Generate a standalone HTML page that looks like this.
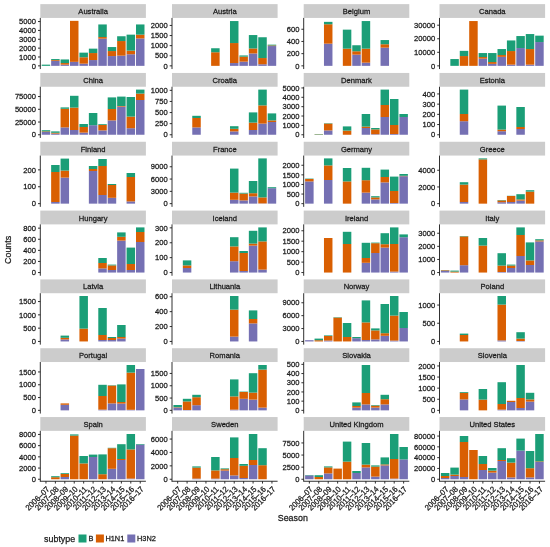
<!DOCTYPE html>
<html><head><meta charset="utf-8"><title>Influenza subtypes by season</title>
<style>
html,body{margin:0;padding:0;background:#fff;}
body{width:550px;height:547px;overflow:hidden;}
svg{display:block;}
text{font-family:"Liberation Sans",sans-serif;fill:#1a1a1a;stroke:#1a1a1a;stroke-width:0.25px;}
.tx{filter:grayscale(1);}
.st{font-size:7.6px;text-anchor:middle;}
.tk{font-size:7.6px;text-anchor:end;}
.xl{font-size:7.7px;text-anchor:end;}
.ti{font-size:8.9px;}
.lg{font-size:7.4px;}
.ax{stroke:#1a1a1a;stroke-width:0.9;fill:none;}
</style></head>
<body>
<svg width="550" height="547" viewBox="0 0 550 547">
<rect width="550" height="547" fill="#fff"/>
<rect x="40.3" y="4.13" width="105.6" height="13.8" fill="#CCCCCC"/>
<rect x="41.71" y="64.65" width="8.49" height="1.2" fill="#1B9E77"/>
<rect x="51.14" y="60.85" width="8.49" height="5" fill="#7570B3"/>
<rect x="51.14" y="60.05" width="8.49" height="0.8" fill="#D95F02"/>
<rect x="51.14" y="59.05" width="8.49" height="1" fill="#1B9E77"/>
<rect x="60.57" y="64.65" width="8.49" height="1.2" fill="#7570B3"/>
<rect x="60.57" y="63.05" width="8.49" height="1.6" fill="#D95F02"/>
<rect x="60.57" y="59.45" width="8.49" height="3.6" fill="#1B9E77"/>
<rect x="70" y="61.85" width="8.49" height="4" fill="#7570B3"/>
<rect x="70" y="20.85" width="8.49" height="41" fill="#D95F02"/>
<rect x="79.43" y="63.65" width="8.49" height="2.2" fill="#7570B3"/>
<rect x="79.43" y="57.25" width="8.49" height="6.4" fill="#D95F02"/>
<rect x="79.43" y="52.65" width="8.49" height="4.6" fill="#1B9E77"/>
<rect x="88.86" y="60.05" width="8.49" height="5.8" fill="#7570B3"/>
<rect x="88.86" y="53.05" width="8.49" height="7" fill="#D95F02"/>
<rect x="88.86" y="48.65" width="8.49" height="4.4" fill="#1B9E77"/>
<rect x="98.29" y="38.65" width="8.49" height="27.2" fill="#7570B3"/>
<rect x="98.29" y="37.05" width="8.49" height="1.6" fill="#D95F02"/>
<rect x="98.29" y="24.45" width="8.49" height="12.6" fill="#1B9E77"/>
<rect x="107.71" y="56.05" width="8.49" height="9.8" fill="#7570B3"/>
<rect x="107.71" y="51.05" width="8.49" height="5" fill="#D95F02"/>
<rect x="107.71" y="47.05" width="8.49" height="4" fill="#1B9E77"/>
<rect x="117.14" y="55.65" width="8.49" height="10.2" fill="#7570B3"/>
<rect x="117.14" y="41.05" width="8.49" height="14.6" fill="#D95F02"/>
<rect x="117.14" y="36.25" width="8.49" height="4.8" fill="#1B9E77"/>
<rect x="126.57" y="54.25" width="8.49" height="11.6" fill="#7570B3"/>
<rect x="126.57" y="50.65" width="8.49" height="3.6" fill="#D95F02"/>
<rect x="126.57" y="34.65" width="8.49" height="16" fill="#1B9E77"/>
<rect x="136" y="38.45" width="8.49" height="27.4" fill="#7570B3"/>
<rect x="136" y="34.65" width="8.49" height="3.8" fill="#D95F02"/>
<rect x="136" y="24.45" width="8.49" height="10.2" fill="#1B9E77"/>
<line x1="40.3" y1="17.93" x2="40.3" y2="69.05" class="ax"/>
<line x1="38" y1="65.85" x2="40.3" y2="65.85" class="ax"/>
<line x1="38" y1="56.99" x2="40.3" y2="56.99" class="ax"/>
<line x1="38" y1="48.13" x2="40.3" y2="48.13" class="ax"/>
<line x1="38" y1="39.27" x2="40.3" y2="39.27" class="ax"/>
<line x1="38" y1="30.41" x2="40.3" y2="30.41" class="ax"/>
<line x1="38" y1="21.55" x2="40.3" y2="21.55" class="ax"/>
<rect x="172" y="4.13" width="105.6" height="13.8" fill="#CCCCCC"/>
<rect x="211.13" y="52.25" width="8.49" height="13.6" fill="#D95F02"/>
<rect x="211.13" y="48.25" width="8.49" height="4" fill="#1B9E77"/>
<rect x="229.99" y="63.05" width="8.49" height="2.8" fill="#7570B3"/>
<rect x="229.99" y="43.05" width="8.49" height="20" fill="#D95F02"/>
<rect x="229.99" y="21.05" width="8.49" height="22" fill="#1B9E77"/>
<rect x="239.41" y="61.65" width="8.49" height="4.2" fill="#7570B3"/>
<rect x="239.41" y="56.65" width="8.49" height="5" fill="#D95F02"/>
<rect x="239.41" y="55.45" width="8.49" height="1.2" fill="#1B9E77"/>
<rect x="248.84" y="53.45" width="8.49" height="12.4" fill="#7570B3"/>
<rect x="248.84" y="48.45" width="8.49" height="5" fill="#D95F02"/>
<rect x="248.84" y="35.05" width="8.49" height="13.4" fill="#1B9E77"/>
<rect x="258.27" y="64.25" width="8.49" height="1.6" fill="#7570B3"/>
<rect x="258.27" y="58.05" width="8.49" height="6.2" fill="#D95F02"/>
<rect x="258.27" y="37.25" width="8.49" height="20.8" fill="#1B9E77"/>
<rect x="267.7" y="46.05" width="8.49" height="19.8" fill="#7570B3"/>
<rect x="267.7" y="45.45" width="8.49" height="0.6" fill="#D95F02"/>
<rect x="267.7" y="44.65" width="8.49" height="0.8" fill="#1B9E77"/>
<line x1="172" y1="17.93" x2="172" y2="69.05" class="ax"/>
<line x1="169.7" y1="65.85" x2="172" y2="65.85" class="ax"/>
<line x1="169.7" y1="55.75" x2="172" y2="55.75" class="ax"/>
<line x1="169.7" y1="45.65" x2="172" y2="45.65" class="ax"/>
<line x1="169.7" y1="35.55" x2="172" y2="35.55" class="ax"/>
<line x1="169.7" y1="25.45" x2="172" y2="25.45" class="ax"/>
<rect x="303.7" y="4.13" width="105.6" height="13.8" fill="#CCCCCC"/>
<rect x="323.97" y="43.65" width="8.49" height="22.2" fill="#7570B3"/>
<rect x="323.97" y="24.25" width="8.49" height="19.4" fill="#D95F02"/>
<rect x="323.97" y="21.85" width="8.49" height="2.4" fill="#1B9E77"/>
<rect x="342.83" y="48.65" width="8.49" height="17.2" fill="#D95F02"/>
<rect x="342.83" y="29.65" width="8.49" height="19" fill="#1B9E77"/>
<rect x="352.26" y="54.65" width="8.49" height="11.2" fill="#7570B3"/>
<rect x="352.26" y="51.25" width="8.49" height="3.4" fill="#D95F02"/>
<rect x="352.26" y="45.25" width="8.49" height="6" fill="#1B9E77"/>
<rect x="361.69" y="62.65" width="8.49" height="3.2" fill="#7570B3"/>
<rect x="361.69" y="48.65" width="8.49" height="14" fill="#D95F02"/>
<rect x="361.69" y="21.05" width="8.49" height="27.6" fill="#1B9E77"/>
<rect x="380.54" y="47.65" width="8.49" height="18.2" fill="#7570B3"/>
<rect x="380.54" y="44.25" width="8.49" height="3.4" fill="#D95F02"/>
<rect x="380.54" y="40.05" width="8.49" height="4.2" fill="#1B9E77"/>
<line x1="303.7" y1="17.93" x2="303.7" y2="69.05" class="ax"/>
<line x1="301.4" y1="65.85" x2="303.7" y2="65.85" class="ax"/>
<line x1="301.4" y1="53.65" x2="303.7" y2="53.65" class="ax"/>
<line x1="301.4" y1="41.45" x2="303.7" y2="41.45" class="ax"/>
<line x1="301.4" y1="29.25" x2="303.7" y2="29.25" class="ax"/>
<rect x="439.5" y="4.13" width="105.6" height="13.8" fill="#CCCCCC"/>
<rect x="450.34" y="59.05" width="8.49" height="6.8" fill="#1B9E77"/>
<rect x="459.77" y="56.05" width="8.49" height="9.8" fill="#D95F02"/>
<rect x="459.77" y="50.85" width="8.49" height="5.2" fill="#1B9E77"/>
<rect x="469.2" y="21.05" width="8.49" height="44.8" fill="#D95F02"/>
<rect x="478.63" y="58.65" width="8.49" height="7.2" fill="#7570B3"/>
<rect x="478.63" y="57.05" width="8.49" height="1.6" fill="#D95F02"/>
<rect x="478.63" y="53.05" width="8.49" height="4" fill="#1B9E77"/>
<rect x="488.06" y="63.85" width="8.49" height="2" fill="#7570B3"/>
<rect x="488.06" y="62.05" width="8.49" height="1.8" fill="#D95F02"/>
<rect x="488.06" y="53.05" width="8.49" height="9" fill="#1B9E77"/>
<rect x="497.49" y="56.85" width="8.49" height="9" fill="#7570B3"/>
<rect x="497.49" y="55.05" width="8.49" height="1.8" fill="#D95F02"/>
<rect x="497.49" y="49.05" width="8.49" height="6" fill="#1B9E77"/>
<rect x="506.91" y="64.65" width="8.49" height="1.2" fill="#7570B3"/>
<rect x="506.91" y="51.05" width="8.49" height="13.6" fill="#D95F02"/>
<rect x="506.91" y="40.45" width="8.49" height="10.6" fill="#1B9E77"/>
<rect x="516.34" y="48.05" width="8.49" height="17.8" fill="#7570B3"/>
<rect x="516.34" y="36.05" width="8.49" height="12" fill="#1B9E77"/>
<rect x="525.77" y="64.65" width="8.49" height="1.2" fill="#7570B3"/>
<rect x="525.77" y="49.05" width="8.49" height="15.6" fill="#D95F02"/>
<rect x="525.77" y="34.05" width="8.49" height="15" fill="#1B9E77"/>
<rect x="535.2" y="42.05" width="8.49" height="23.8" fill="#7570B3"/>
<rect x="535.2" y="35.65" width="8.49" height="6.4" fill="#1B9E77"/>
<line x1="439.5" y1="17.93" x2="439.5" y2="69.05" class="ax"/>
<line x1="437.2" y1="65.85" x2="439.5" y2="65.85" class="ax"/>
<line x1="437.2" y1="52.3" x2="439.5" y2="52.3" class="ax"/>
<line x1="437.2" y1="38.75" x2="439.5" y2="38.75" class="ax"/>
<line x1="437.2" y1="25.2" x2="439.5" y2="25.2" class="ax"/>
<rect x="40.3" y="72.95" width="105.6" height="13.8" fill="#CCCCCC"/>
<rect x="41.71" y="132" width="8.49" height="2.75" fill="#7570B3"/>
<rect x="41.71" y="131.4" width="8.49" height="0.6" fill="#D95F02"/>
<rect x="41.71" y="130.2" width="8.49" height="1.2" fill="#1B9E77"/>
<rect x="51.14" y="133.6" width="8.49" height="1.15" fill="#7570B3"/>
<rect x="51.14" y="132.8" width="8.49" height="0.8" fill="#D95F02"/>
<rect x="51.14" y="131.4" width="8.49" height="1.4" fill="#1B9E77"/>
<rect x="60.57" y="127.4" width="8.49" height="7.35" fill="#7570B3"/>
<rect x="60.57" y="108.8" width="8.49" height="18.6" fill="#D95F02"/>
<rect x="60.57" y="107.4" width="8.49" height="1.4" fill="#1B9E77"/>
<rect x="70" y="130" width="8.49" height="4.75" fill="#7570B3"/>
<rect x="70" y="107.6" width="8.49" height="22.4" fill="#D95F02"/>
<rect x="70" y="95.8" width="8.49" height="11.8" fill="#1B9E77"/>
<rect x="79.43" y="132.6" width="8.49" height="2.15" fill="#7570B3"/>
<rect x="79.43" y="127" width="8.49" height="5.6" fill="#D95F02"/>
<rect x="79.43" y="124" width="8.49" height="3" fill="#1B9E77"/>
<rect x="88.86" y="125.2" width="8.49" height="9.55" fill="#7570B3"/>
<rect x="88.86" y="113" width="8.49" height="12.2" fill="#1B9E77"/>
<rect x="98.29" y="130.4" width="8.49" height="4.35" fill="#7570B3"/>
<rect x="98.29" y="125" width="8.49" height="5.4" fill="#D95F02"/>
<rect x="98.29" y="124.2" width="8.49" height="0.8" fill="#1B9E77"/>
<rect x="107.71" y="120.4" width="8.49" height="14.35" fill="#7570B3"/>
<rect x="107.71" y="109" width="8.49" height="11.4" fill="#D95F02"/>
<rect x="107.71" y="97.4" width="8.49" height="11.6" fill="#1B9E77"/>
<rect x="117.14" y="106.6" width="8.49" height="28.15" fill="#7570B3"/>
<rect x="117.14" y="106" width="8.49" height="0.6" fill="#D95F02"/>
<rect x="117.14" y="96.6" width="8.49" height="9.4" fill="#1B9E77"/>
<rect x="126.57" y="128.2" width="8.49" height="6.55" fill="#7570B3"/>
<rect x="126.57" y="116.6" width="8.49" height="11.6" fill="#D95F02"/>
<rect x="126.57" y="97" width="8.49" height="19.6" fill="#1B9E77"/>
<rect x="136" y="100" width="8.49" height="34.75" fill="#7570B3"/>
<rect x="136" y="93.6" width="8.49" height="6.4" fill="#D95F02"/>
<rect x="136" y="89.6" width="8.49" height="4" fill="#1B9E77"/>
<line x1="40.3" y1="86.75" x2="40.3" y2="137.95" class="ax"/>
<line x1="38" y1="134.75" x2="40.3" y2="134.75" class="ax"/>
<line x1="38" y1="122.02" x2="40.3" y2="122.02" class="ax"/>
<line x1="38" y1="109.29" x2="40.3" y2="109.29" class="ax"/>
<line x1="38" y1="96.56" x2="40.3" y2="96.56" class="ax"/>
<rect x="172" y="72.95" width="105.6" height="13.8" fill="#CCCCCC"/>
<rect x="192.27" y="127.4" width="8.49" height="7.35" fill="#7570B3"/>
<rect x="192.27" y="118" width="8.49" height="9.4" fill="#D95F02"/>
<rect x="192.27" y="115.8" width="8.49" height="2.2" fill="#1B9E77"/>
<rect x="229.99" y="131.4" width="8.49" height="3.35" fill="#7570B3"/>
<rect x="229.99" y="128.8" width="8.49" height="2.6" fill="#D95F02"/>
<rect x="229.99" y="126.2" width="8.49" height="2.6" fill="#1B9E77"/>
<rect x="248.84" y="130" width="8.49" height="4.75" fill="#7570B3"/>
<rect x="248.84" y="122.6" width="8.49" height="7.4" fill="#D95F02"/>
<rect x="248.84" y="112.4" width="8.49" height="10.2" fill="#1B9E77"/>
<rect x="258.27" y="123.6" width="8.49" height="11.15" fill="#7570B3"/>
<rect x="258.27" y="105.4" width="8.49" height="18.2" fill="#D95F02"/>
<rect x="258.27" y="89.6" width="8.49" height="15.8" fill="#1B9E77"/>
<rect x="267.7" y="122" width="8.49" height="12.75" fill="#7570B3"/>
<rect x="267.7" y="120.4" width="8.49" height="1.6" fill="#D95F02"/>
<rect x="267.7" y="113.4" width="8.49" height="7" fill="#1B9E77"/>
<line x1="172" y1="86.75" x2="172" y2="137.95" class="ax"/>
<line x1="169.7" y1="134.75" x2="172" y2="134.75" class="ax"/>
<line x1="169.7" y1="123.65" x2="172" y2="123.65" class="ax"/>
<line x1="169.7" y1="112.55" x2="172" y2="112.55" class="ax"/>
<line x1="169.7" y1="101.45" x2="172" y2="101.45" class="ax"/>
<line x1="169.7" y1="90.35" x2="172" y2="90.35" class="ax"/>
<rect x="303.7" y="72.95" width="105.6" height="13.8" fill="#CCCCCC"/>
<rect x="314.54" y="134.4" width="8.49" height="0.35" fill="#D95F02"/>
<rect x="314.54" y="134" width="8.49" height="0.4" fill="#1B9E77"/>
<rect x="323.97" y="130.4" width="8.49" height="4.35" fill="#7570B3"/>
<rect x="323.97" y="123.6" width="8.49" height="6.8" fill="#D95F02"/>
<rect x="323.97" y="123.2" width="8.49" height="0.4" fill="#1B9E77"/>
<rect x="342.83" y="130.6" width="8.49" height="4.15" fill="#D95F02"/>
<rect x="342.83" y="126.4" width="8.49" height="4.2" fill="#1B9E77"/>
<rect x="361.69" y="128" width="8.49" height="6.75" fill="#7570B3"/>
<rect x="361.69" y="126.6" width="8.49" height="1.4" fill="#D95F02"/>
<rect x="361.69" y="114" width="8.49" height="12.6" fill="#1B9E77"/>
<rect x="371.11" y="134.2" width="8.49" height="0.55" fill="#7570B3"/>
<rect x="371.11" y="129.4" width="8.49" height="4.8" fill="#D95F02"/>
<rect x="371.11" y="128" width="8.49" height="1.4" fill="#1B9E77"/>
<rect x="380.54" y="117" width="8.49" height="17.75" fill="#7570B3"/>
<rect x="380.54" y="105" width="8.49" height="12" fill="#D95F02"/>
<rect x="380.54" y="89.6" width="8.49" height="15.4" fill="#1B9E77"/>
<rect x="389.97" y="134" width="8.49" height="0.75" fill="#7570B3"/>
<rect x="389.97" y="125" width="8.49" height="9" fill="#D95F02"/>
<rect x="389.97" y="99" width="8.49" height="26" fill="#1B9E77"/>
<rect x="399.4" y="117" width="8.49" height="17.75" fill="#7570B3"/>
<rect x="399.4" y="114" width="8.49" height="3" fill="#1B9E77"/>
<line x1="303.7" y1="86.75" x2="303.7" y2="137.95" class="ax"/>
<line x1="301.4" y1="134.75" x2="303.7" y2="134.75" class="ax"/>
<line x1="301.4" y1="125.39" x2="303.7" y2="125.39" class="ax"/>
<line x1="301.4" y1="116.03" x2="303.7" y2="116.03" class="ax"/>
<line x1="301.4" y1="106.67" x2="303.7" y2="106.67" class="ax"/>
<line x1="301.4" y1="97.31" x2="303.7" y2="97.31" class="ax"/>
<line x1="301.4" y1="87.95" x2="303.7" y2="87.95" class="ax"/>
<rect x="439.5" y="72.95" width="105.6" height="13.8" fill="#CCCCCC"/>
<rect x="459.77" y="121.2" width="8.49" height="13.55" fill="#7570B3"/>
<rect x="459.77" y="114" width="8.49" height="7.2" fill="#D95F02"/>
<rect x="459.77" y="89.6" width="8.49" height="24.4" fill="#1B9E77"/>
<rect x="497.49" y="131.2" width="8.49" height="3.55" fill="#7570B3"/>
<rect x="497.49" y="129.6" width="8.49" height="1.6" fill="#D95F02"/>
<rect x="497.49" y="105.6" width="8.49" height="24" fill="#1B9E77"/>
<rect x="516.34" y="129" width="8.49" height="5.75" fill="#7570B3"/>
<rect x="516.34" y="127" width="8.49" height="2" fill="#D95F02"/>
<rect x="516.34" y="107" width="8.49" height="20" fill="#1B9E77"/>
<line x1="439.5" y1="86.75" x2="439.5" y2="137.95" class="ax"/>
<line x1="437.2" y1="134.75" x2="439.5" y2="134.75" class="ax"/>
<line x1="437.2" y1="124.55" x2="439.5" y2="124.55" class="ax"/>
<line x1="437.2" y1="114.35" x2="439.5" y2="114.35" class="ax"/>
<line x1="437.2" y1="104.15" x2="439.5" y2="104.15" class="ax"/>
<line x1="437.2" y1="93.95" x2="439.5" y2="93.95" class="ax"/>
<rect x="40.3" y="141.77" width="105.6" height="13.8" fill="#CCCCCC"/>
<rect x="51.14" y="202" width="8.49" height="1.65" fill="#7570B3"/>
<rect x="51.14" y="172" width="8.49" height="30" fill="#D95F02"/>
<rect x="51.14" y="165" width="8.49" height="7" fill="#1B9E77"/>
<rect x="60.57" y="177.6" width="8.49" height="26.05" fill="#7570B3"/>
<rect x="60.57" y="170.6" width="8.49" height="7" fill="#D95F02"/>
<rect x="60.57" y="158.6" width="8.49" height="12" fill="#1B9E77"/>
<rect x="88.86" y="171" width="8.49" height="32.65" fill="#7570B3"/>
<rect x="88.86" y="169" width="8.49" height="2" fill="#D95F02"/>
<rect x="88.86" y="166" width="8.49" height="3" fill="#1B9E77"/>
<rect x="98.29" y="195" width="8.49" height="8.65" fill="#7570B3"/>
<rect x="98.29" y="166" width="8.49" height="29" fill="#D95F02"/>
<rect x="98.29" y="159" width="8.49" height="7" fill="#1B9E77"/>
<rect x="107.71" y="197.8" width="8.49" height="5.85" fill="#7570B3"/>
<rect x="107.71" y="185" width="8.49" height="12.8" fill="#D95F02"/>
<rect x="107.71" y="184" width="8.49" height="1" fill="#1B9E77"/>
<rect x="126.57" y="201.4" width="8.49" height="2.25" fill="#7570B3"/>
<rect x="126.57" y="177" width="8.49" height="24.4" fill="#D95F02"/>
<rect x="126.57" y="173" width="8.49" height="4" fill="#1B9E77"/>
<line x1="40.3" y1="155.57" x2="40.3" y2="206.85" class="ax"/>
<line x1="38" y1="203.65" x2="40.3" y2="203.65" class="ax"/>
<line x1="38" y1="186.75" x2="40.3" y2="186.75" class="ax"/>
<line x1="38" y1="169.85" x2="40.3" y2="169.85" class="ax"/>
<rect x="172" y="141.77" width="105.6" height="13.8" fill="#CCCCCC"/>
<rect x="229.99" y="199.8" width="8.49" height="3.85" fill="#7570B3"/>
<rect x="229.99" y="192.6" width="8.49" height="7.2" fill="#D95F02"/>
<rect x="229.99" y="168.6" width="8.49" height="24" fill="#1B9E77"/>
<rect x="239.41" y="200.4" width="8.49" height="3.25" fill="#7570B3"/>
<rect x="239.41" y="193.6" width="8.49" height="6.8" fill="#D95F02"/>
<rect x="239.41" y="192.8" width="8.49" height="0.8" fill="#1B9E77"/>
<rect x="248.84" y="196.4" width="8.49" height="7.25" fill="#7570B3"/>
<rect x="248.84" y="193.2" width="8.49" height="3.2" fill="#D95F02"/>
<rect x="248.84" y="181" width="8.49" height="12.2" fill="#1B9E77"/>
<rect x="258.27" y="203.4" width="8.49" height="0.25" fill="#7570B3"/>
<rect x="258.27" y="197.4" width="8.49" height="6" fill="#D95F02"/>
<rect x="258.27" y="158.4" width="8.49" height="39" fill="#1B9E77"/>
<rect x="267.7" y="188.2" width="8.49" height="15.45" fill="#7570B3"/>
<rect x="267.7" y="187.2" width="8.49" height="1" fill="#1B9E77"/>
<line x1="172" y1="155.57" x2="172" y2="206.85" class="ax"/>
<line x1="169.7" y1="203.65" x2="172" y2="203.65" class="ax"/>
<line x1="169.7" y1="191.35" x2="172" y2="191.35" class="ax"/>
<line x1="169.7" y1="179.05" x2="172" y2="179.05" class="ax"/>
<line x1="169.7" y1="166.75" x2="172" y2="166.75" class="ax"/>
<rect x="303.7" y="141.77" width="105.6" height="13.8" fill="#CCCCCC"/>
<rect x="305.11" y="181.4" width="8.49" height="22.25" fill="#7570B3"/>
<rect x="305.11" y="179" width="8.49" height="2.4" fill="#D95F02"/>
<rect x="305.11" y="178.6" width="8.49" height="0.4" fill="#1B9E77"/>
<rect x="323.97" y="180" width="8.49" height="23.65" fill="#7570B3"/>
<rect x="323.97" y="165.4" width="8.49" height="14.6" fill="#D95F02"/>
<rect x="323.97" y="158.4" width="8.49" height="7" fill="#1B9E77"/>
<rect x="342.83" y="181.4" width="8.49" height="22.25" fill="#D95F02"/>
<rect x="342.83" y="168" width="8.49" height="13.4" fill="#1B9E77"/>
<rect x="361.69" y="192.6" width="8.49" height="11.05" fill="#7570B3"/>
<rect x="361.69" y="180.2" width="8.49" height="12.4" fill="#D95F02"/>
<rect x="361.69" y="167.8" width="8.49" height="12.4" fill="#1B9E77"/>
<rect x="371.11" y="199.4" width="8.49" height="4.25" fill="#7570B3"/>
<rect x="371.11" y="197.4" width="8.49" height="2" fill="#D95F02"/>
<rect x="371.11" y="196.2" width="8.49" height="1.2" fill="#1B9E77"/>
<rect x="380.54" y="182.4" width="8.49" height="21.25" fill="#7570B3"/>
<rect x="380.54" y="177" width="8.49" height="5.4" fill="#D95F02"/>
<rect x="380.54" y="169.6" width="8.49" height="7.4" fill="#1B9E77"/>
<rect x="389.97" y="203" width="8.49" height="0.65" fill="#7570B3"/>
<rect x="389.97" y="191" width="8.49" height="12" fill="#D95F02"/>
<rect x="389.97" y="176.6" width="8.49" height="14.4" fill="#1B9E77"/>
<rect x="399.4" y="176.2" width="8.49" height="27.45" fill="#7570B3"/>
<rect x="399.4" y="175.8" width="8.49" height="0.4" fill="#D95F02"/>
<rect x="399.4" y="174" width="8.49" height="1.8" fill="#1B9E77"/>
<line x1="303.7" y1="155.57" x2="303.7" y2="206.85" class="ax"/>
<line x1="301.4" y1="203.65" x2="303.7" y2="203.65" class="ax"/>
<line x1="301.4" y1="194.05" x2="303.7" y2="194.05" class="ax"/>
<line x1="301.4" y1="184.45" x2="303.7" y2="184.45" class="ax"/>
<line x1="301.4" y1="174.85" x2="303.7" y2="174.85" class="ax"/>
<line x1="301.4" y1="165.25" x2="303.7" y2="165.25" class="ax"/>
<rect x="439.5" y="141.77" width="105.6" height="13.8" fill="#CCCCCC"/>
<rect x="459.77" y="202" width="8.49" height="1.65" fill="#7570B3"/>
<rect x="459.77" y="184.6" width="8.49" height="17.4" fill="#D95F02"/>
<rect x="459.77" y="182.2" width="8.49" height="2.4" fill="#1B9E77"/>
<rect x="478.63" y="159.4" width="8.49" height="44.25" fill="#D95F02"/>
<rect x="478.63" y="158.4" width="8.49" height="1" fill="#1B9E77"/>
<rect x="497.49" y="202.2" width="8.49" height="1.45" fill="#7570B3"/>
<rect x="497.49" y="200.4" width="8.49" height="1.8" fill="#D95F02"/>
<rect x="497.49" y="200" width="8.49" height="0.4" fill="#1B9E77"/>
<rect x="506.91" y="202" width="8.49" height="1.65" fill="#7570B3"/>
<rect x="506.91" y="196" width="8.49" height="6" fill="#D95F02"/>
<rect x="506.91" y="195.8" width="8.49" height="0.2" fill="#1B9E77"/>
<rect x="516.34" y="200.6" width="8.49" height="3.05" fill="#7570B3"/>
<rect x="516.34" y="199.4" width="8.49" height="1.2" fill="#D95F02"/>
<rect x="516.34" y="194.2" width="8.49" height="5.2" fill="#1B9E77"/>
<rect x="525.77" y="191.6" width="8.49" height="12.05" fill="#D95F02"/>
<rect x="525.77" y="190.2" width="8.49" height="1.4" fill="#1B9E77"/>
<line x1="439.5" y1="155.57" x2="439.5" y2="206.85" class="ax"/>
<line x1="437.2" y1="203.65" x2="439.5" y2="203.65" class="ax"/>
<line x1="437.2" y1="186.95" x2="439.5" y2="186.95" class="ax"/>
<line x1="437.2" y1="170.25" x2="439.5" y2="170.25" class="ax"/>
<rect x="40.3" y="210.59" width="105.6" height="13.8" fill="#CCCCCC"/>
<rect x="98.29" y="268.4" width="8.49" height="4.15" fill="#7570B3"/>
<rect x="98.29" y="263" width="8.49" height="5.4" fill="#D95F02"/>
<rect x="98.29" y="258" width="8.49" height="5" fill="#1B9E77"/>
<rect x="107.71" y="270" width="8.49" height="2.55" fill="#7570B3"/>
<rect x="107.71" y="265.4" width="8.49" height="4.6" fill="#D95F02"/>
<rect x="107.71" y="264.6" width="8.49" height="0.8" fill="#1B9E77"/>
<rect x="117.14" y="240.6" width="8.49" height="31.95" fill="#7570B3"/>
<rect x="117.14" y="236.8" width="8.49" height="3.8" fill="#D95F02"/>
<rect x="117.14" y="232.4" width="8.49" height="4.4" fill="#1B9E77"/>
<rect x="126.57" y="270" width="8.49" height="2.55" fill="#7570B3"/>
<rect x="126.57" y="264" width="8.49" height="6" fill="#D95F02"/>
<rect x="126.57" y="247.6" width="8.49" height="16.4" fill="#1B9E77"/>
<rect x="136" y="242" width="8.49" height="30.55" fill="#7570B3"/>
<rect x="136" y="232" width="8.49" height="10" fill="#D95F02"/>
<rect x="136" y="227.4" width="8.49" height="4.6" fill="#1B9E77"/>
<line x1="40.3" y1="224.39" x2="40.3" y2="275.75" class="ax"/>
<line x1="38" y1="272.55" x2="40.3" y2="272.55" class="ax"/>
<line x1="38" y1="261.45" x2="40.3" y2="261.45" class="ax"/>
<line x1="38" y1="250.35" x2="40.3" y2="250.35" class="ax"/>
<line x1="38" y1="239.25" x2="40.3" y2="239.25" class="ax"/>
<line x1="38" y1="228.15" x2="40.3" y2="228.15" class="ax"/>
<rect x="172" y="210.59" width="105.6" height="13.8" fill="#CCCCCC"/>
<rect x="182.84" y="268" width="8.49" height="4.55" fill="#7570B3"/>
<rect x="182.84" y="265.4" width="8.49" height="2.6" fill="#D95F02"/>
<rect x="182.84" y="260.4" width="8.49" height="5" fill="#1B9E77"/>
<rect x="229.99" y="261.2" width="8.49" height="11.35" fill="#7570B3"/>
<rect x="229.99" y="246.4" width="8.49" height="14.8" fill="#D95F02"/>
<rect x="229.99" y="237.2" width="8.49" height="9.2" fill="#1B9E77"/>
<rect x="239.41" y="271" width="8.49" height="1.55" fill="#7570B3"/>
<rect x="239.41" y="253" width="8.49" height="18" fill="#D95F02"/>
<rect x="239.41" y="251" width="8.49" height="2" fill="#1B9E77"/>
<rect x="248.84" y="245.6" width="8.49" height="26.95" fill="#7570B3"/>
<rect x="248.84" y="243.6" width="8.49" height="2" fill="#D95F02"/>
<rect x="248.84" y="230.8" width="8.49" height="12.8" fill="#1B9E77"/>
<rect x="258.27" y="269.6" width="8.49" height="2.95" fill="#7570B3"/>
<rect x="258.27" y="241.4" width="8.49" height="28.2" fill="#D95F02"/>
<rect x="258.27" y="227.4" width="8.49" height="14" fill="#1B9E77"/>
<line x1="172" y1="224.39" x2="172" y2="275.75" class="ax"/>
<line x1="169.7" y1="272.55" x2="172" y2="272.55" class="ax"/>
<line x1="169.7" y1="257.65" x2="172" y2="257.65" class="ax"/>
<line x1="169.7" y1="242.75" x2="172" y2="242.75" class="ax"/>
<line x1="169.7" y1="227.85" x2="172" y2="227.85" class="ax"/>
<rect x="303.7" y="210.59" width="105.6" height="13.8" fill="#CCCCCC"/>
<rect x="323.97" y="238" width="8.49" height="34.55" fill="#D95F02"/>
<rect x="342.83" y="244" width="8.49" height="28.55" fill="#D95F02"/>
<rect x="342.83" y="231.8" width="8.49" height="12.2" fill="#1B9E77"/>
<rect x="361.69" y="262.8" width="8.49" height="9.75" fill="#7570B3"/>
<rect x="361.69" y="258" width="8.49" height="4.8" fill="#D95F02"/>
<rect x="361.69" y="242.8" width="8.49" height="15.2" fill="#1B9E77"/>
<rect x="371.11" y="253" width="8.49" height="19.55" fill="#7570B3"/>
<rect x="371.11" y="243.2" width="8.49" height="9.8" fill="#D95F02"/>
<rect x="371.11" y="242.6" width="8.49" height="0.6" fill="#1B9E77"/>
<rect x="380.54" y="247.6" width="8.49" height="24.95" fill="#7570B3"/>
<rect x="380.54" y="244.2" width="8.49" height="3.4" fill="#D95F02"/>
<rect x="380.54" y="233.2" width="8.49" height="11" fill="#1B9E77"/>
<rect x="389.97" y="271.6" width="8.49" height="0.95" fill="#7570B3"/>
<rect x="389.97" y="244" width="8.49" height="27.6" fill="#D95F02"/>
<rect x="389.97" y="227.4" width="8.49" height="16.6" fill="#1B9E77"/>
<rect x="399.4" y="237.2" width="8.49" height="35.35" fill="#7570B3"/>
<rect x="399.4" y="234.4" width="8.49" height="2.8" fill="#1B9E77"/>
<line x1="303.7" y1="224.39" x2="303.7" y2="275.75" class="ax"/>
<line x1="301.4" y1="272.55" x2="303.7" y2="272.55" class="ax"/>
<line x1="301.4" y1="262.1" x2="303.7" y2="262.1" class="ax"/>
<line x1="301.4" y1="251.65" x2="303.7" y2="251.65" class="ax"/>
<line x1="301.4" y1="241.2" x2="303.7" y2="241.2" class="ax"/>
<line x1="301.4" y1="230.75" x2="303.7" y2="230.75" class="ax"/>
<rect x="439.5" y="210.59" width="105.6" height="13.8" fill="#CCCCCC"/>
<rect x="440.91" y="270.8" width="8.49" height="1.75" fill="#7570B3"/>
<rect x="440.91" y="270.2" width="8.49" height="0.6" fill="#D95F02"/>
<rect x="440.91" y="270" width="8.49" height="0.2" fill="#1B9E77"/>
<rect x="450.34" y="271.6" width="8.49" height="0.95" fill="#D95F02"/>
<rect x="450.34" y="270.6" width="8.49" height="1" fill="#1B9E77"/>
<rect x="459.77" y="265.2" width="8.49" height="7.35" fill="#7570B3"/>
<rect x="459.77" y="236.4" width="8.49" height="28.8" fill="#D95F02"/>
<rect x="459.77" y="236" width="8.49" height="0.4" fill="#1B9E77"/>
<rect x="478.63" y="245.6" width="8.49" height="26.95" fill="#D95F02"/>
<rect x="478.63" y="238" width="8.49" height="7.6" fill="#1B9E77"/>
<rect x="497.49" y="272" width="8.49" height="0.55" fill="#7570B3"/>
<rect x="497.49" y="265.6" width="8.49" height="6.4" fill="#D95F02"/>
<rect x="497.49" y="253.2" width="8.49" height="12.4" fill="#1B9E77"/>
<rect x="506.91" y="268" width="8.49" height="4.55" fill="#7570B3"/>
<rect x="506.91" y="265.6" width="8.49" height="2.4" fill="#D95F02"/>
<rect x="506.91" y="264.6" width="8.49" height="1" fill="#1B9E77"/>
<rect x="516.34" y="256" width="8.49" height="16.55" fill="#7570B3"/>
<rect x="516.34" y="235" width="8.49" height="21" fill="#D95F02"/>
<rect x="516.34" y="227.4" width="8.49" height="7.6" fill="#1B9E77"/>
<rect x="525.77" y="265" width="8.49" height="7.55" fill="#7570B3"/>
<rect x="525.77" y="260.4" width="8.49" height="4.6" fill="#D95F02"/>
<rect x="525.77" y="242.4" width="8.49" height="18" fill="#1B9E77"/>
<rect x="535.2" y="241.4" width="8.49" height="31.15" fill="#7570B3"/>
<rect x="535.2" y="240.4" width="8.49" height="1" fill="#D95F02"/>
<rect x="535.2" y="239.2" width="8.49" height="1.2" fill="#1B9E77"/>
<line x1="439.5" y1="224.39" x2="439.5" y2="275.75" class="ax"/>
<line x1="437.2" y1="272.55" x2="439.5" y2="272.55" class="ax"/>
<line x1="437.2" y1="259.45" x2="439.5" y2="259.45" class="ax"/>
<line x1="437.2" y1="246.35" x2="439.5" y2="246.35" class="ax"/>
<line x1="437.2" y1="233.25" x2="439.5" y2="233.25" class="ax"/>
<rect x="40.3" y="279.41" width="105.6" height="13.8" fill="#CCCCCC"/>
<rect x="60.57" y="339.4" width="8.49" height="2.05" fill="#7570B3"/>
<rect x="60.57" y="337.8" width="8.49" height="1.6" fill="#D95F02"/>
<rect x="60.57" y="335.6" width="8.49" height="2.2" fill="#1B9E77"/>
<rect x="79.43" y="328.6" width="8.49" height="12.85" fill="#D95F02"/>
<rect x="79.43" y="296" width="8.49" height="32.6" fill="#1B9E77"/>
<rect x="98.29" y="340" width="8.49" height="1.45" fill="#7570B3"/>
<rect x="98.29" y="335" width="8.49" height="5" fill="#D95F02"/>
<rect x="98.29" y="308" width="8.49" height="27" fill="#1B9E77"/>
<rect x="107.71" y="340" width="8.49" height="1.45" fill="#7570B3"/>
<rect x="107.71" y="338" width="8.49" height="2" fill="#D95F02"/>
<rect x="107.71" y="337" width="8.49" height="1" fill="#1B9E77"/>
<rect x="117.14" y="338.6" width="8.49" height="2.85" fill="#7570B3"/>
<rect x="117.14" y="337" width="8.49" height="1.6" fill="#D95F02"/>
<rect x="117.14" y="325" width="8.49" height="12" fill="#1B9E77"/>
<line x1="40.3" y1="293.21" x2="40.3" y2="344.65" class="ax"/>
<line x1="38" y1="341.45" x2="40.3" y2="341.45" class="ax"/>
<line x1="38" y1="328.15" x2="40.3" y2="328.15" class="ax"/>
<line x1="38" y1="314.85" x2="40.3" y2="314.85" class="ax"/>
<line x1="38" y1="301.55" x2="40.3" y2="301.55" class="ax"/>
<rect x="172" y="279.41" width="105.6" height="13.8" fill="#CCCCCC"/>
<rect x="229.99" y="336.6" width="8.49" height="4.85" fill="#7570B3"/>
<rect x="229.99" y="309.6" width="8.49" height="27" fill="#D95F02"/>
<rect x="229.99" y="296" width="8.49" height="13.6" fill="#1B9E77"/>
<rect x="248.84" y="323.4" width="8.49" height="18.05" fill="#7570B3"/>
<rect x="248.84" y="319" width="8.49" height="4.4" fill="#D95F02"/>
<rect x="248.84" y="310.4" width="8.49" height="8.6" fill="#1B9E77"/>
<line x1="172" y1="293.21" x2="172" y2="344.65" class="ax"/>
<line x1="169.7" y1="341.45" x2="172" y2="341.45" class="ax"/>
<line x1="169.7" y1="326.55" x2="172" y2="326.55" class="ax"/>
<line x1="169.7" y1="311.65" x2="172" y2="311.65" class="ax"/>
<line x1="169.7" y1="296.75" x2="172" y2="296.75" class="ax"/>
<rect x="303.7" y="279.41" width="105.6" height="13.8" fill="#CCCCCC"/>
<rect x="305.11" y="340.2" width="8.49" height="1.25" fill="#7570B3"/>
<rect x="314.54" y="340.2" width="8.49" height="1.25" fill="#D95F02"/>
<rect x="314.54" y="338.6" width="8.49" height="1.6" fill="#1B9E77"/>
<rect x="323.97" y="340.6" width="8.49" height="0.85" fill="#7570B3"/>
<rect x="323.97" y="336" width="8.49" height="4.6" fill="#D95F02"/>
<rect x="323.97" y="335.4" width="8.49" height="0.6" fill="#1B9E77"/>
<rect x="333.4" y="317.6" width="8.49" height="23.85" fill="#D95F02"/>
<rect x="333.4" y="317.2" width="8.49" height="0.4" fill="#1B9E77"/>
<rect x="342.83" y="337" width="8.49" height="4.45" fill="#D95F02"/>
<rect x="342.83" y="323" width="8.49" height="14" fill="#1B9E77"/>
<rect x="352.26" y="338.2" width="8.49" height="3.25" fill="#7570B3"/>
<rect x="352.26" y="337" width="8.49" height="1.2" fill="#1B9E77"/>
<rect x="361.69" y="340" width="8.49" height="1.45" fill="#7570B3"/>
<rect x="361.69" y="322.4" width="8.49" height="17.6" fill="#D95F02"/>
<rect x="361.69" y="300.4" width="8.49" height="22" fill="#1B9E77"/>
<rect x="371.11" y="339.4" width="8.49" height="2.05" fill="#7570B3"/>
<rect x="371.11" y="330.4" width="8.49" height="9" fill="#D95F02"/>
<rect x="371.11" y="328.4" width="8.49" height="2" fill="#1B9E77"/>
<rect x="380.54" y="335.8" width="8.49" height="5.65" fill="#7570B3"/>
<rect x="380.54" y="333.2" width="8.49" height="2.6" fill="#D95F02"/>
<rect x="380.54" y="304" width="8.49" height="29.2" fill="#1B9E77"/>
<rect x="389.97" y="340.6" width="8.49" height="0.85" fill="#7570B3"/>
<rect x="389.97" y="315.6" width="8.49" height="25" fill="#D95F02"/>
<rect x="389.97" y="296" width="8.49" height="19.6" fill="#1B9E77"/>
<rect x="399.4" y="328" width="8.49" height="13.45" fill="#7570B3"/>
<rect x="399.4" y="312" width="8.49" height="16" fill="#1B9E77"/>
<line x1="303.7" y1="293.21" x2="303.7" y2="344.65" class="ax"/>
<line x1="301.4" y1="341.45" x2="303.7" y2="341.45" class="ax"/>
<line x1="301.4" y1="328.55" x2="303.7" y2="328.55" class="ax"/>
<line x1="301.4" y1="315.65" x2="303.7" y2="315.65" class="ax"/>
<line x1="301.4" y1="302.75" x2="303.7" y2="302.75" class="ax"/>
<rect x="439.5" y="279.41" width="105.6" height="13.8" fill="#CCCCCC"/>
<rect x="459.77" y="335" width="8.49" height="6.45" fill="#D95F02"/>
<rect x="459.77" y="333.6" width="8.49" height="1.4" fill="#1B9E77"/>
<rect x="497.49" y="340.4" width="8.49" height="1.05" fill="#7570B3"/>
<rect x="497.49" y="304.6" width="8.49" height="35.8" fill="#D95F02"/>
<rect x="497.49" y="296" width="8.49" height="8.6" fill="#1B9E77"/>
<rect x="516.34" y="341" width="8.49" height="0.45" fill="#7570B3"/>
<rect x="516.34" y="338.6" width="8.49" height="2.4" fill="#D95F02"/>
<rect x="516.34" y="332.2" width="8.49" height="6.4" fill="#1B9E77"/>
<line x1="439.5" y1="293.21" x2="439.5" y2="344.65" class="ax"/>
<line x1="437.2" y1="341.45" x2="439.5" y2="341.45" class="ax"/>
<line x1="437.2" y1="323.25" x2="439.5" y2="323.25" class="ax"/>
<line x1="437.2" y1="305.05" x2="439.5" y2="305.05" class="ax"/>
<rect x="40.3" y="348.23" width="105.6" height="13.8" fill="#CCCCCC"/>
<rect x="60.57" y="404.8" width="8.49" height="5.55" fill="#7570B3"/>
<rect x="60.57" y="403.4" width="8.49" height="1.4" fill="#D95F02"/>
<rect x="98.29" y="409.6" width="8.49" height="0.75" fill="#7570B3"/>
<rect x="98.29" y="396" width="8.49" height="13.6" fill="#D95F02"/>
<rect x="98.29" y="384.8" width="8.49" height="11.2" fill="#1B9E77"/>
<rect x="107.71" y="403.4" width="8.49" height="6.95" fill="#7570B3"/>
<rect x="107.71" y="385.6" width="8.49" height="17.8" fill="#D95F02"/>
<rect x="107.71" y="385.2" width="8.49" height="0.4" fill="#1B9E77"/>
<rect x="117.14" y="403.6" width="8.49" height="6.75" fill="#7570B3"/>
<rect x="117.14" y="402" width="8.49" height="1.6" fill="#D95F02"/>
<rect x="117.14" y="384.4" width="8.49" height="17.6" fill="#1B9E77"/>
<rect x="126.57" y="409.8" width="8.49" height="0.55" fill="#7570B3"/>
<rect x="126.57" y="372.6" width="8.49" height="37.2" fill="#D95F02"/>
<rect x="126.57" y="365" width="8.49" height="7.6" fill="#1B9E77"/>
<rect x="136" y="369" width="8.49" height="41.35" fill="#7570B3"/>
<line x1="40.3" y1="362.03" x2="40.3" y2="413.55" class="ax"/>
<line x1="38" y1="410.35" x2="40.3" y2="410.35" class="ax"/>
<line x1="38" y1="397.55" x2="40.3" y2="397.55" class="ax"/>
<line x1="38" y1="384.75" x2="40.3" y2="384.75" class="ax"/>
<line x1="38" y1="371.95" x2="40.3" y2="371.95" class="ax"/>
<rect x="172" y="348.23" width="105.6" height="13.8" fill="#CCCCCC"/>
<rect x="173.41" y="407.6" width="8.49" height="2.75" fill="#7570B3"/>
<rect x="173.41" y="407.2" width="8.49" height="0.4" fill="#D95F02"/>
<rect x="173.41" y="405" width="8.49" height="2.2" fill="#1B9E77"/>
<rect x="182.84" y="410" width="8.49" height="0.35" fill="#7570B3"/>
<rect x="182.84" y="401.4" width="8.49" height="8.6" fill="#D95F02"/>
<rect x="182.84" y="398.8" width="8.49" height="2.6" fill="#1B9E77"/>
<rect x="192.27" y="405.2" width="8.49" height="5.15" fill="#7570B3"/>
<rect x="192.27" y="397.2" width="8.49" height="8" fill="#D95F02"/>
<rect x="192.27" y="394.8" width="8.49" height="2.4" fill="#1B9E77"/>
<rect x="229.99" y="409.6" width="8.49" height="0.75" fill="#7570B3"/>
<rect x="229.99" y="396.4" width="8.49" height="13.2" fill="#D95F02"/>
<rect x="229.99" y="379.4" width="8.49" height="17" fill="#1B9E77"/>
<rect x="239.41" y="398.8" width="8.49" height="11.55" fill="#7570B3"/>
<rect x="239.41" y="392" width="8.49" height="6.8" fill="#D95F02"/>
<rect x="239.41" y="391.6" width="8.49" height="0.4" fill="#1B9E77"/>
<rect x="248.84" y="399.6" width="8.49" height="10.75" fill="#7570B3"/>
<rect x="248.84" y="392.6" width="8.49" height="7" fill="#D95F02"/>
<rect x="248.84" y="373.2" width="8.49" height="19.4" fill="#1B9E77"/>
<rect x="258.27" y="407.6" width="8.49" height="2.75" fill="#7570B3"/>
<rect x="258.27" y="369.6" width="8.49" height="38" fill="#D95F02"/>
<rect x="258.27" y="365" width="8.49" height="4.6" fill="#1B9E77"/>
<line x1="172" y1="362.03" x2="172" y2="413.55" class="ax"/>
<line x1="169.7" y1="410.35" x2="172" y2="410.35" class="ax"/>
<line x1="169.7" y1="398.05" x2="172" y2="398.05" class="ax"/>
<line x1="169.7" y1="385.75" x2="172" y2="385.75" class="ax"/>
<line x1="169.7" y1="373.45" x2="172" y2="373.45" class="ax"/>
<rect x="303.7" y="348.23" width="105.6" height="13.8" fill="#CCCCCC"/>
<rect x="352.26" y="407.6" width="8.49" height="2.75" fill="#7570B3"/>
<rect x="352.26" y="406" width="8.49" height="1.6" fill="#D95F02"/>
<rect x="352.26" y="402.4" width="8.49" height="3.6" fill="#1B9E77"/>
<rect x="361.69" y="404.4" width="8.49" height="5.95" fill="#7570B3"/>
<rect x="361.69" y="393" width="8.49" height="11.4" fill="#D95F02"/>
<rect x="361.69" y="365" width="8.49" height="28" fill="#1B9E77"/>
<rect x="371.11" y="407.6" width="8.49" height="2.75" fill="#7570B3"/>
<rect x="371.11" y="405.6" width="8.49" height="2" fill="#D95F02"/>
<rect x="371.11" y="405" width="8.49" height="0.6" fill="#1B9E77"/>
<rect x="380.54" y="404.4" width="8.49" height="5.95" fill="#7570B3"/>
<rect x="380.54" y="399.2" width="8.49" height="5.2" fill="#D95F02"/>
<rect x="380.54" y="394.8" width="8.49" height="4.4" fill="#1B9E77"/>
<line x1="303.7" y1="362.03" x2="303.7" y2="413.55" class="ax"/>
<line x1="301.4" y1="410.35" x2="303.7" y2="410.35" class="ax"/>
<line x1="301.4" y1="401.15" x2="303.7" y2="401.15" class="ax"/>
<line x1="301.4" y1="391.95" x2="303.7" y2="391.95" class="ax"/>
<line x1="301.4" y1="382.75" x2="303.7" y2="382.75" class="ax"/>
<line x1="301.4" y1="373.55" x2="303.7" y2="373.55" class="ax"/>
<line x1="301.4" y1="364.35" x2="303.7" y2="364.35" class="ax"/>
<rect x="439.5" y="348.23" width="105.6" height="13.8" fill="#CCCCCC"/>
<rect x="459.77" y="399.4" width="8.49" height="10.95" fill="#7570B3"/>
<rect x="459.77" y="392.8" width="8.49" height="6.6" fill="#D95F02"/>
<rect x="459.77" y="392" width="8.49" height="0.8" fill="#1B9E77"/>
<rect x="478.63" y="399.6" width="8.49" height="10.75" fill="#D95F02"/>
<rect x="478.63" y="389" width="8.49" height="10.6" fill="#1B9E77"/>
<rect x="497.49" y="409.6" width="8.49" height="0.75" fill="#7570B3"/>
<rect x="497.49" y="404" width="8.49" height="5.6" fill="#D95F02"/>
<rect x="497.49" y="382.2" width="8.49" height="21.8" fill="#1B9E77"/>
<rect x="506.91" y="402" width="8.49" height="8.35" fill="#7570B3"/>
<rect x="506.91" y="400.8" width="8.49" height="1.2" fill="#D95F02"/>
<rect x="516.34" y="408" width="8.49" height="2.35" fill="#7570B3"/>
<rect x="516.34" y="398" width="8.49" height="10" fill="#D95F02"/>
<rect x="516.34" y="365" width="8.49" height="33" fill="#1B9E77"/>
<rect x="525.77" y="401.6" width="8.49" height="8.75" fill="#7570B3"/>
<rect x="525.77" y="399.4" width="8.49" height="2.2" fill="#D95F02"/>
<rect x="525.77" y="392.8" width="8.49" height="6.6" fill="#1B9E77"/>
<line x1="439.5" y1="362.03" x2="439.5" y2="413.55" class="ax"/>
<line x1="437.2" y1="410.35" x2="439.5" y2="410.35" class="ax"/>
<line x1="437.2" y1="399.25" x2="439.5" y2="399.25" class="ax"/>
<line x1="437.2" y1="388.15" x2="439.5" y2="388.15" class="ax"/>
<line x1="437.2" y1="377.05" x2="439.5" y2="377.05" class="ax"/>
<line x1="437.2" y1="365.95" x2="439.5" y2="365.95" class="ax"/>
<rect x="40.3" y="417.05" width="105.6" height="13.8" fill="#CCCCCC"/>
<rect x="51.14" y="477.2" width="8.49" height="2.05" fill="#D95F02"/>
<rect x="51.14" y="476.2" width="8.49" height="1" fill="#1B9E77"/>
<rect x="60.57" y="477" width="8.49" height="2.25" fill="#7570B3"/>
<rect x="60.57" y="474" width="8.49" height="3" fill="#D95F02"/>
<rect x="60.57" y="473.2" width="8.49" height="0.8" fill="#1B9E77"/>
<rect x="70" y="435.6" width="8.49" height="43.65" fill="#D95F02"/>
<rect x="70" y="434.4" width="8.49" height="1.2" fill="#1B9E77"/>
<rect x="79.43" y="463.4" width="8.49" height="15.85" fill="#D95F02"/>
<rect x="79.43" y="456" width="8.49" height="7.4" fill="#1B9E77"/>
<rect x="88.86" y="457" width="8.49" height="22.25" fill="#7570B3"/>
<rect x="88.86" y="454.6" width="8.49" height="2.4" fill="#1B9E77"/>
<rect x="98.29" y="474.2" width="8.49" height="5.05" fill="#D95F02"/>
<rect x="98.29" y="454.4" width="8.49" height="19.8" fill="#1B9E77"/>
<rect x="107.71" y="468.8" width="8.49" height="10.45" fill="#7570B3"/>
<rect x="107.71" y="448.2" width="8.49" height="20.6" fill="#D95F02"/>
<rect x="107.71" y="447.8" width="8.49" height="0.4" fill="#1B9E77"/>
<rect x="117.14" y="460" width="8.49" height="19.25" fill="#7570B3"/>
<rect x="117.14" y="459" width="8.49" height="1" fill="#D95F02"/>
<rect x="117.14" y="444.2" width="8.49" height="14.8" fill="#1B9E77"/>
<rect x="126.57" y="478.6" width="8.49" height="0.65" fill="#7570B3"/>
<rect x="126.57" y="449.4" width="8.49" height="29.2" fill="#D95F02"/>
<rect x="126.57" y="434" width="8.49" height="15.4" fill="#1B9E77"/>
<rect x="136" y="444.6" width="8.49" height="34.65" fill="#7570B3"/>
<rect x="136" y="444" width="8.49" height="0.6" fill="#1B9E77"/>
<line x1="40.3" y1="430.85" x2="40.3" y2="481.25" class="ax"/>
<line x1="38" y1="479.25" x2="40.3" y2="479.25" class="ax"/>
<line x1="38" y1="468.05" x2="40.3" y2="468.05" class="ax"/>
<line x1="38" y1="456.85" x2="40.3" y2="456.85" class="ax"/>
<line x1="38" y1="445.65" x2="40.3" y2="445.65" class="ax"/>
<line x1="38" y1="434.45" x2="40.3" y2="434.45" class="ax"/>
<line x1="39.85" y1="481.25" x2="145.9" y2="481.25" class="ax"/>
<line x1="45.96" y1="481.25" x2="45.96" y2="483.55" class="ax"/>
<line x1="55.39" y1="481.25" x2="55.39" y2="483.55" class="ax"/>
<line x1="64.81" y1="481.25" x2="64.81" y2="483.55" class="ax"/>
<line x1="74.24" y1="481.25" x2="74.24" y2="483.55" class="ax"/>
<line x1="83.67" y1="481.25" x2="83.67" y2="483.55" class="ax"/>
<line x1="93.1" y1="481.25" x2="93.1" y2="483.55" class="ax"/>
<line x1="102.53" y1="481.25" x2="102.53" y2="483.55" class="ax"/>
<line x1="111.96" y1="481.25" x2="111.96" y2="483.55" class="ax"/>
<line x1="121.39" y1="481.25" x2="121.39" y2="483.55" class="ax"/>
<line x1="130.81" y1="481.25" x2="130.81" y2="483.55" class="ax"/>
<line x1="140.24" y1="481.25" x2="140.24" y2="483.55" class="ax"/>
<rect x="172" y="417.05" width="105.6" height="13.8" fill="#CCCCCC"/>
<rect x="192.27" y="478.6" width="8.49" height="0.65" fill="#7570B3"/>
<rect x="192.27" y="467.6" width="8.49" height="11" fill="#D95F02"/>
<rect x="192.27" y="466.4" width="8.49" height="1.2" fill="#1B9E77"/>
<rect x="211.13" y="478.6" width="8.49" height="0.65" fill="#7570B3"/>
<rect x="211.13" y="470.4" width="8.49" height="8.2" fill="#D95F02"/>
<rect x="211.13" y="457" width="8.49" height="13.4" fill="#1B9E77"/>
<rect x="220.56" y="470.6" width="8.49" height="8.65" fill="#7570B3"/>
<rect x="220.56" y="469.2" width="8.49" height="1.4" fill="#D95F02"/>
<rect x="220.56" y="468.4" width="8.49" height="0.8" fill="#1B9E77"/>
<rect x="229.99" y="475.4" width="8.49" height="3.85" fill="#7570B3"/>
<rect x="229.99" y="458" width="8.49" height="17.4" fill="#D95F02"/>
<rect x="229.99" y="437.4" width="8.49" height="20.6" fill="#1B9E77"/>
<rect x="239.41" y="478" width="8.49" height="1.25" fill="#7570B3"/>
<rect x="239.41" y="465.8" width="8.49" height="12.2" fill="#D95F02"/>
<rect x="239.41" y="464" width="8.49" height="1.8" fill="#1B9E77"/>
<rect x="248.84" y="465" width="8.49" height="14.25" fill="#7570B3"/>
<rect x="248.84" y="460" width="8.49" height="5" fill="#D95F02"/>
<rect x="248.84" y="434" width="8.49" height="26" fill="#1B9E77"/>
<rect x="258.27" y="465.2" width="8.49" height="14.05" fill="#D95F02"/>
<rect x="258.27" y="448.2" width="8.49" height="17" fill="#1B9E77"/>
<line x1="172" y1="430.85" x2="172" y2="481.25" class="ax"/>
<line x1="169.7" y1="479.25" x2="172" y2="479.25" class="ax"/>
<line x1="169.7" y1="465.85" x2="172" y2="465.85" class="ax"/>
<line x1="169.7" y1="452.45" x2="172" y2="452.45" class="ax"/>
<line x1="169.7" y1="439.05" x2="172" y2="439.05" class="ax"/>
<line x1="171.55" y1="481.25" x2="277.6" y2="481.25" class="ax"/>
<line x1="177.66" y1="481.25" x2="177.66" y2="483.55" class="ax"/>
<line x1="187.09" y1="481.25" x2="187.09" y2="483.55" class="ax"/>
<line x1="196.51" y1="481.25" x2="196.51" y2="483.55" class="ax"/>
<line x1="205.94" y1="481.25" x2="205.94" y2="483.55" class="ax"/>
<line x1="215.37" y1="481.25" x2="215.37" y2="483.55" class="ax"/>
<line x1="224.8" y1="481.25" x2="224.8" y2="483.55" class="ax"/>
<line x1="234.23" y1="481.25" x2="234.23" y2="483.55" class="ax"/>
<line x1="243.66" y1="481.25" x2="243.66" y2="483.55" class="ax"/>
<line x1="253.09" y1="481.25" x2="253.09" y2="483.55" class="ax"/>
<line x1="262.51" y1="481.25" x2="262.51" y2="483.55" class="ax"/>
<line x1="271.94" y1="481.25" x2="271.94" y2="483.55" class="ax"/>
<rect x="303.7" y="417.05" width="105.6" height="13.8" fill="#CCCCCC"/>
<rect x="305.11" y="475.4" width="8.49" height="3.85" fill="#7570B3"/>
<rect x="305.11" y="475" width="8.49" height="0.4" fill="#1B9E77"/>
<rect x="314.54" y="477" width="8.49" height="2.25" fill="#D95F02"/>
<rect x="314.54" y="475.2" width="8.49" height="1.8" fill="#1B9E77"/>
<rect x="323.97" y="473.4" width="8.49" height="5.85" fill="#7570B3"/>
<rect x="323.97" y="467.4" width="8.49" height="6" fill="#D95F02"/>
<rect x="323.97" y="466.4" width="8.49" height="1" fill="#1B9E77"/>
<rect x="333.4" y="468.6" width="8.49" height="10.65" fill="#D95F02"/>
<rect x="342.83" y="461.6" width="8.49" height="17.65" fill="#D95F02"/>
<rect x="342.83" y="441.6" width="8.49" height="20" fill="#1B9E77"/>
<rect x="352.26" y="473" width="8.49" height="6.25" fill="#7570B3"/>
<rect x="352.26" y="471" width="8.49" height="2" fill="#1B9E77"/>
<rect x="361.69" y="467.4" width="8.49" height="11.85" fill="#7570B3"/>
<rect x="361.69" y="464.6" width="8.49" height="2.8" fill="#D95F02"/>
<rect x="361.69" y="443" width="8.49" height="21.6" fill="#1B9E77"/>
<rect x="371.11" y="476.6" width="8.49" height="2.65" fill="#7570B3"/>
<rect x="371.11" y="466.6" width="8.49" height="10" fill="#D95F02"/>
<rect x="371.11" y="465.4" width="8.49" height="1.2" fill="#1B9E77"/>
<rect x="380.54" y="465.4" width="8.49" height="13.85" fill="#7570B3"/>
<rect x="380.54" y="464.4" width="8.49" height="1" fill="#D95F02"/>
<rect x="380.54" y="457.4" width="8.49" height="7" fill="#1B9E77"/>
<rect x="389.97" y="478.6" width="8.49" height="0.65" fill="#7570B3"/>
<rect x="389.97" y="459" width="8.49" height="19.6" fill="#D95F02"/>
<rect x="389.97" y="434" width="8.49" height="25" fill="#1B9E77"/>
<rect x="399.4" y="459.4" width="8.49" height="19.85" fill="#7570B3"/>
<rect x="399.4" y="447" width="8.49" height="12.4" fill="#1B9E77"/>
<line x1="303.7" y1="430.85" x2="303.7" y2="481.25" class="ax"/>
<line x1="301.4" y1="479.25" x2="303.7" y2="479.25" class="ax"/>
<line x1="301.4" y1="467.15" x2="303.7" y2="467.15" class="ax"/>
<line x1="301.4" y1="455.05" x2="303.7" y2="455.05" class="ax"/>
<line x1="301.4" y1="442.95" x2="303.7" y2="442.95" class="ax"/>
<line x1="303.25" y1="481.25" x2="409.3" y2="481.25" class="ax"/>
<line x1="309.36" y1="481.25" x2="309.36" y2="483.55" class="ax"/>
<line x1="318.79" y1="481.25" x2="318.79" y2="483.55" class="ax"/>
<line x1="328.21" y1="481.25" x2="328.21" y2="483.55" class="ax"/>
<line x1="337.64" y1="481.25" x2="337.64" y2="483.55" class="ax"/>
<line x1="347.07" y1="481.25" x2="347.07" y2="483.55" class="ax"/>
<line x1="356.5" y1="481.25" x2="356.5" y2="483.55" class="ax"/>
<line x1="365.93" y1="481.25" x2="365.93" y2="483.55" class="ax"/>
<line x1="375.36" y1="481.25" x2="375.36" y2="483.55" class="ax"/>
<line x1="384.79" y1="481.25" x2="384.79" y2="483.55" class="ax"/>
<line x1="394.21" y1="481.25" x2="394.21" y2="483.55" class="ax"/>
<line x1="403.64" y1="481.25" x2="403.64" y2="483.55" class="ax"/>
<rect x="439.5" y="417.05" width="105.6" height="13.8" fill="#CCCCCC"/>
<rect x="440.91" y="478" width="8.49" height="1.25" fill="#7570B3"/>
<rect x="440.91" y="476" width="8.49" height="2" fill="#D95F02"/>
<rect x="440.91" y="473" width="8.49" height="3" fill="#1B9E77"/>
<rect x="450.34" y="476" width="8.49" height="3.25" fill="#7570B3"/>
<rect x="450.34" y="474.6" width="8.49" height="1.4" fill="#D95F02"/>
<rect x="450.34" y="467.6" width="8.49" height="7" fill="#1B9E77"/>
<rect x="459.77" y="477" width="8.49" height="2.25" fill="#7570B3"/>
<rect x="459.77" y="442" width="8.49" height="35" fill="#D95F02"/>
<rect x="459.77" y="436" width="8.49" height="6" fill="#1B9E77"/>
<rect x="469.2" y="450" width="8.49" height="29.25" fill="#D95F02"/>
<rect x="478.63" y="470" width="8.49" height="9.25" fill="#7570B3"/>
<rect x="478.63" y="464" width="8.49" height="6" fill="#D95F02"/>
<rect x="478.63" y="456" width="8.49" height="8" fill="#1B9E77"/>
<rect x="488.06" y="472.6" width="8.49" height="6.65" fill="#7570B3"/>
<rect x="488.06" y="470.6" width="8.49" height="2" fill="#D95F02"/>
<rect x="488.06" y="468" width="8.49" height="2.6" fill="#1B9E77"/>
<rect x="497.49" y="461" width="8.49" height="18.25" fill="#7570B3"/>
<rect x="497.49" y="460" width="8.49" height="1" fill="#D95F02"/>
<rect x="497.49" y="448.2" width="8.49" height="11.8" fill="#1B9E77"/>
<rect x="506.91" y="477.4" width="8.49" height="1.85" fill="#7570B3"/>
<rect x="506.91" y="462.6" width="8.49" height="14.8" fill="#D95F02"/>
<rect x="506.91" y="458.2" width="8.49" height="4.4" fill="#1B9E77"/>
<rect x="516.34" y="450.6" width="8.49" height="28.65" fill="#7570B3"/>
<rect x="516.34" y="438.6" width="8.49" height="12" fill="#1B9E77"/>
<rect x="525.77" y="477.4" width="8.49" height="1.85" fill="#7570B3"/>
<rect x="525.77" y="468.2" width="8.49" height="9.2" fill="#D95F02"/>
<rect x="525.77" y="451" width="8.49" height="17.2" fill="#1B9E77"/>
<rect x="535.2" y="462" width="8.49" height="17.25" fill="#7570B3"/>
<rect x="535.2" y="461.4" width="8.49" height="0.6" fill="#D95F02"/>
<rect x="535.2" y="434" width="8.49" height="27.4" fill="#1B9E77"/>
<line x1="439.5" y1="430.85" x2="439.5" y2="481.25" class="ax"/>
<line x1="437.2" y1="479.25" x2="439.5" y2="479.25" class="ax"/>
<line x1="437.2" y1="468.45" x2="439.5" y2="468.45" class="ax"/>
<line x1="437.2" y1="457.65" x2="439.5" y2="457.65" class="ax"/>
<line x1="437.2" y1="446.85" x2="439.5" y2="446.85" class="ax"/>
<line x1="437.2" y1="436.05" x2="439.5" y2="436.05" class="ax"/>
<line x1="439.05" y1="481.25" x2="545.1" y2="481.25" class="ax"/>
<line x1="445.16" y1="481.25" x2="445.16" y2="483.55" class="ax"/>
<line x1="454.59" y1="481.25" x2="454.59" y2="483.55" class="ax"/>
<line x1="464.01" y1="481.25" x2="464.01" y2="483.55" class="ax"/>
<line x1="473.44" y1="481.25" x2="473.44" y2="483.55" class="ax"/>
<line x1="482.87" y1="481.25" x2="482.87" y2="483.55" class="ax"/>
<line x1="492.3" y1="481.25" x2="492.3" y2="483.55" class="ax"/>
<line x1="501.73" y1="481.25" x2="501.73" y2="483.55" class="ax"/>
<line x1="511.16" y1="481.25" x2="511.16" y2="483.55" class="ax"/>
<line x1="520.59" y1="481.25" x2="520.59" y2="483.55" class="ax"/>
<line x1="530.01" y1="481.25" x2="530.01" y2="483.55" class="ax"/>
<line x1="539.44" y1="481.25" x2="539.44" y2="483.55" class="ax"/>
<rect x="78.5" y="534.5" width="8" height="8" fill="#1B9E77"/>
<rect x="95.9" y="534.5" width="8" height="8" fill="#D95F02"/>
<rect x="127.3" y="534.5" width="8" height="8" fill="#7570B3"/>
<g class="tx">
<text class="st" transform="translate(93.1 14.13) scale(1 1.05)">Australia</text>
<text class="tk" transform="translate(36 68.53) scale(1 1.05)">0</text>
<text class="tk" transform="translate(36 59.67) scale(1 1.05)">1000</text>
<text class="tk" transform="translate(36 50.81) scale(1 1.05)">2000</text>
<text class="tk" transform="translate(36 41.95) scale(1 1.05)">3000</text>
<text class="tk" transform="translate(36 33.09) scale(1 1.05)">4000</text>
<text class="tk" transform="translate(36 24.23) scale(1 1.05)">5000</text>
<text class="st" transform="translate(224.8 14.13) scale(1 1.05)">Austria</text>
<text class="tk" transform="translate(167.7 68.53) scale(1 1.05)">0</text>
<text class="tk" transform="translate(167.7 58.43) scale(1 1.05)">500</text>
<text class="tk" transform="translate(167.7 48.33) scale(1 1.05)">1000</text>
<text class="tk" transform="translate(167.7 38.23) scale(1 1.05)">1500</text>
<text class="tk" transform="translate(167.7 28.13) scale(1 1.05)">2000</text>
<text class="st" transform="translate(356.5 14.13) scale(1 1.05)">Belgium</text>
<text class="tk" transform="translate(299.4 68.53) scale(1 1.05)">0</text>
<text class="tk" transform="translate(299.4 56.33) scale(1 1.05)">200</text>
<text class="tk" transform="translate(299.4 44.13) scale(1 1.05)">400</text>
<text class="tk" transform="translate(299.4 31.93) scale(1 1.05)">600</text>
<text class="st" transform="translate(492.3 14.13) scale(1 1.05)">Canada</text>
<text class="tk" transform="translate(435.2 68.53) scale(1 1.05)">0</text>
<text class="tk" transform="translate(435.2 54.98) scale(1 1.05)">10000</text>
<text class="tk" transform="translate(435.2 41.43) scale(1 1.05)">20000</text>
<text class="tk" transform="translate(435.2 27.88) scale(1 1.05)">30000</text>
<text class="st" transform="translate(93.1 82.95) scale(1 1.05)">China</text>
<text class="tk" transform="translate(36 137.43) scale(1 1.05)">0</text>
<text class="tk" transform="translate(36 124.7) scale(1 1.05)">25000</text>
<text class="tk" transform="translate(36 111.97) scale(1 1.05)">50000</text>
<text class="tk" transform="translate(36 99.24) scale(1 1.05)">75000</text>
<text class="st" transform="translate(224.8 82.95) scale(1 1.05)">Croatia</text>
<text class="tk" transform="translate(167.7 137.43) scale(1 1.05)">0</text>
<text class="tk" transform="translate(167.7 126.33) scale(1 1.05)">250</text>
<text class="tk" transform="translate(167.7 115.23) scale(1 1.05)">500</text>
<text class="tk" transform="translate(167.7 104.13) scale(1 1.05)">750</text>
<text class="tk" transform="translate(167.7 93.03) scale(1 1.05)">1000</text>
<text class="st" transform="translate(356.5 82.95) scale(1 1.05)">Denmark</text>
<text class="tk" transform="translate(299.4 137.43) scale(1 1.05)">0</text>
<text class="tk" transform="translate(299.4 128.07) scale(1 1.05)">1000</text>
<text class="tk" transform="translate(299.4 118.71) scale(1 1.05)">2000</text>
<text class="tk" transform="translate(299.4 109.35) scale(1 1.05)">3000</text>
<text class="tk" transform="translate(299.4 99.99) scale(1 1.05)">4000</text>
<text class="tk" transform="translate(299.4 90.63) scale(1 1.05)">5000</text>
<text class="st" transform="translate(492.3 82.95) scale(1 1.05)">Estonia</text>
<text class="tk" transform="translate(435.2 137.43) scale(1 1.05)">0</text>
<text class="tk" transform="translate(435.2 127.23) scale(1 1.05)">100</text>
<text class="tk" transform="translate(435.2 117.03) scale(1 1.05)">200</text>
<text class="tk" transform="translate(435.2 106.83) scale(1 1.05)">300</text>
<text class="tk" transform="translate(435.2 96.63) scale(1 1.05)">400</text>
<text class="st" transform="translate(93.1 151.77) scale(1 1.05)">Finland</text>
<text class="tk" transform="translate(36 206.33) scale(1 1.05)">0</text>
<text class="tk" transform="translate(36 189.43) scale(1 1.05)">100</text>
<text class="tk" transform="translate(36 172.53) scale(1 1.05)">200</text>
<text class="st" transform="translate(224.8 151.77) scale(1 1.05)">France</text>
<text class="tk" transform="translate(167.7 206.33) scale(1 1.05)">0</text>
<text class="tk" transform="translate(167.7 194.03) scale(1 1.05)">3000</text>
<text class="tk" transform="translate(167.7 181.73) scale(1 1.05)">6000</text>
<text class="tk" transform="translate(167.7 169.43) scale(1 1.05)">9000</text>
<text class="st" transform="translate(356.5 151.77) scale(1 1.05)">Germany</text>
<text class="tk" transform="translate(299.4 206.33) scale(1 1.05)">0</text>
<text class="tk" transform="translate(299.4 196.73) scale(1 1.05)">500</text>
<text class="tk" transform="translate(299.4 187.13) scale(1 1.05)">1000</text>
<text class="tk" transform="translate(299.4 177.53) scale(1 1.05)">1500</text>
<text class="tk" transform="translate(299.4 167.93) scale(1 1.05)">2000</text>
<text class="st" transform="translate(492.3 151.77) scale(1 1.05)">Greece</text>
<text class="tk" transform="translate(435.2 206.33) scale(1 1.05)">0</text>
<text class="tk" transform="translate(435.2 189.63) scale(1 1.05)">2000</text>
<text class="tk" transform="translate(435.2 172.93) scale(1 1.05)">4000</text>
<text class="st" transform="translate(93.1 220.59) scale(1 1.05)">Hungary</text>
<text class="tk" transform="translate(36 275.23) scale(1 1.05)">0</text>
<text class="tk" transform="translate(36 264.13) scale(1 1.05)">200</text>
<text class="tk" transform="translate(36 253.03) scale(1 1.05)">400</text>
<text class="tk" transform="translate(36 241.93) scale(1 1.05)">600</text>
<text class="tk" transform="translate(36 230.83) scale(1 1.05)">800</text>
<text class="st" transform="translate(224.8 220.59) scale(1 1.05)">Iceland</text>
<text class="tk" transform="translate(167.7 275.23) scale(1 1.05)">0</text>
<text class="tk" transform="translate(167.7 260.33) scale(1 1.05)">100</text>
<text class="tk" transform="translate(167.7 245.43) scale(1 1.05)">200</text>
<text class="tk" transform="translate(167.7 230.53) scale(1 1.05)">300</text>
<text class="st" transform="translate(356.5 220.59) scale(1 1.05)">Ireland</text>
<text class="tk" transform="translate(299.4 275.23) scale(1 1.05)">0</text>
<text class="tk" transform="translate(299.4 264.78) scale(1 1.05)">500</text>
<text class="tk" transform="translate(299.4 254.33) scale(1 1.05)">1000</text>
<text class="tk" transform="translate(299.4 243.88) scale(1 1.05)">1500</text>
<text class="tk" transform="translate(299.4 233.43) scale(1 1.05)">2000</text>
<text class="st" transform="translate(492.3 220.59) scale(1 1.05)">Italy</text>
<text class="tk" transform="translate(435.2 275.23) scale(1 1.05)">0</text>
<text class="tk" transform="translate(435.2 262.13) scale(1 1.05)">1000</text>
<text class="tk" transform="translate(435.2 249.03) scale(1 1.05)">2000</text>
<text class="tk" transform="translate(435.2 235.93) scale(1 1.05)">3000</text>
<text class="st" transform="translate(93.1 289.41) scale(1 1.05)">Latvia</text>
<text class="tk" transform="translate(36 344.13) scale(1 1.05)">0</text>
<text class="tk" transform="translate(36 330.83) scale(1 1.05)">500</text>
<text class="tk" transform="translate(36 317.53) scale(1 1.05)">1000</text>
<text class="tk" transform="translate(36 304.23) scale(1 1.05)">1500</text>
<text class="st" transform="translate(224.8 289.41) scale(1 1.05)">Lithuania</text>
<text class="tk" transform="translate(167.7 344.13) scale(1 1.05)">0</text>
<text class="tk" transform="translate(167.7 329.23) scale(1 1.05)">200</text>
<text class="tk" transform="translate(167.7 314.33) scale(1 1.05)">400</text>
<text class="tk" transform="translate(167.7 299.43) scale(1 1.05)">600</text>
<text class="st" transform="translate(356.5 289.41) scale(1 1.05)">Norway</text>
<text class="tk" transform="translate(299.4 344.13) scale(1 1.05)">0</text>
<text class="tk" transform="translate(299.4 331.23) scale(1 1.05)">3000</text>
<text class="tk" transform="translate(299.4 318.33) scale(1 1.05)">6000</text>
<text class="tk" transform="translate(299.4 305.43) scale(1 1.05)">9000</text>
<text class="st" transform="translate(492.3 289.41) scale(1 1.05)">Poland</text>
<text class="tk" transform="translate(435.2 344.13) scale(1 1.05)">0</text>
<text class="tk" transform="translate(435.2 325.93) scale(1 1.05)">500</text>
<text class="tk" transform="translate(435.2 307.73) scale(1 1.05)">1000</text>
<text class="st" transform="translate(93.1 358.23) scale(1 1.05)">Portugal</text>
<text class="tk" transform="translate(36 413.03) scale(1 1.05)">0</text>
<text class="tk" transform="translate(36 400.23) scale(1 1.05)">500</text>
<text class="tk" transform="translate(36 387.43) scale(1 1.05)">1000</text>
<text class="tk" transform="translate(36 374.63) scale(1 1.05)">1500</text>
<text class="st" transform="translate(224.8 358.23) scale(1 1.05)">Romania</text>
<text class="tk" transform="translate(167.7 413.03) scale(1 1.05)">0</text>
<text class="tk" transform="translate(167.7 400.73) scale(1 1.05)">500</text>
<text class="tk" transform="translate(167.7 388.43) scale(1 1.05)">1000</text>
<text class="tk" transform="translate(167.7 376.13) scale(1 1.05)">1500</text>
<text class="st" transform="translate(356.5 358.23) scale(1 1.05)">Slovakia</text>
<text class="tk" transform="translate(299.4 413.03) scale(1 1.05)">0</text>
<text class="tk" transform="translate(299.4 403.83) scale(1 1.05)">100</text>
<text class="tk" transform="translate(299.4 394.63) scale(1 1.05)">200</text>
<text class="tk" transform="translate(299.4 385.43) scale(1 1.05)">300</text>
<text class="tk" transform="translate(299.4 376.23) scale(1 1.05)">400</text>
<text class="tk" transform="translate(299.4 367.03) scale(1 1.05)">500</text>
<text class="st" transform="translate(492.3 358.23) scale(1 1.05)">Slovenia</text>
<text class="tk" transform="translate(435.2 413.03) scale(1 1.05)">0</text>
<text class="tk" transform="translate(435.2 401.93) scale(1 1.05)">500</text>
<text class="tk" transform="translate(435.2 390.83) scale(1 1.05)">1000</text>
<text class="tk" transform="translate(435.2 379.73) scale(1 1.05)">1500</text>
<text class="tk" transform="translate(435.2 368.63) scale(1 1.05)">2000</text>
<text class="st" transform="translate(93.1 427.05) scale(1 1.05)">Spain</text>
<text class="tk" transform="translate(36 481.93) scale(1 1.05)">0</text>
<text class="tk" transform="translate(36 470.73) scale(1 1.05)">2000</text>
<text class="tk" transform="translate(36 459.53) scale(1 1.05)">4000</text>
<text class="tk" transform="translate(36 448.33) scale(1 1.05)">6000</text>
<text class="tk" transform="translate(36 437.13) scale(1 1.05)">8000</text>
<text class="xl" transform="translate(45.96 485.8) rotate(-45) translate(0 5.67) scale(1 1.05)">2006–07</text>
<text class="xl" transform="translate(55.39 485.8) rotate(-45) translate(0 5.67) scale(1 1.05)">2007–08</text>
<text class="xl" transform="translate(64.81 485.8) rotate(-45) translate(0 5.67) scale(1 1.05)">2008–09</text>
<text class="xl" transform="translate(74.24 485.8) rotate(-45) translate(0 5.67) scale(1 1.05)">2009–10</text>
<text class="xl" transform="translate(83.67 485.8) rotate(-45) translate(0 5.67) scale(1 1.05)">2010–11</text>
<text class="xl" transform="translate(93.1 485.8) rotate(-45) translate(0 5.67) scale(1 1.05)">2011–12</text>
<text class="xl" transform="translate(102.53 485.8) rotate(-45) translate(0 5.67) scale(1 1.05)">2012–13</text>
<text class="xl" transform="translate(111.96 485.8) rotate(-45) translate(0 5.67) scale(1 1.05)">2013–14</text>
<text class="xl" transform="translate(121.39 485.8) rotate(-45) translate(0 5.67) scale(1 1.05)">2014–15</text>
<text class="xl" transform="translate(130.81 485.8) rotate(-45) translate(0 5.67) scale(1 1.05)">2015–16</text>
<text class="xl" transform="translate(140.24 485.8) rotate(-45) translate(0 5.67) scale(1 1.05)">2016–17</text>
<text class="st" transform="translate(224.8 427.05) scale(1 1.05)">Sweden</text>
<text class="tk" transform="translate(167.7 481.93) scale(1 1.05)">0</text>
<text class="tk" transform="translate(167.7 468.53) scale(1 1.05)">2000</text>
<text class="tk" transform="translate(167.7 455.13) scale(1 1.05)">4000</text>
<text class="tk" transform="translate(167.7 441.73) scale(1 1.05)">6000</text>
<text class="xl" transform="translate(177.66 485.8) rotate(-45) translate(0 5.67) scale(1 1.05)">2006–07</text>
<text class="xl" transform="translate(187.09 485.8) rotate(-45) translate(0 5.67) scale(1 1.05)">2007–08</text>
<text class="xl" transform="translate(196.51 485.8) rotate(-45) translate(0 5.67) scale(1 1.05)">2008–09</text>
<text class="xl" transform="translate(205.94 485.8) rotate(-45) translate(0 5.67) scale(1 1.05)">2009–10</text>
<text class="xl" transform="translate(215.37 485.8) rotate(-45) translate(0 5.67) scale(1 1.05)">2010–11</text>
<text class="xl" transform="translate(224.8 485.8) rotate(-45) translate(0 5.67) scale(1 1.05)">2011–12</text>
<text class="xl" transform="translate(234.23 485.8) rotate(-45) translate(0 5.67) scale(1 1.05)">2012–13</text>
<text class="xl" transform="translate(243.66 485.8) rotate(-45) translate(0 5.67) scale(1 1.05)">2013–14</text>
<text class="xl" transform="translate(253.09 485.8) rotate(-45) translate(0 5.67) scale(1 1.05)">2014–15</text>
<text class="xl" transform="translate(262.51 485.8) rotate(-45) translate(0 5.67) scale(1 1.05)">2015–16</text>
<text class="xl" transform="translate(271.94 485.8) rotate(-45) translate(0 5.67) scale(1 1.05)">2016–17</text>
<text class="st" transform="translate(356.5 427.05) scale(1 1.05)">United Kingdom</text>
<text class="tk" transform="translate(299.4 481.93) scale(1 1.05)">0</text>
<text class="tk" transform="translate(299.4 469.83) scale(1 1.05)">2500</text>
<text class="tk" transform="translate(299.4 457.73) scale(1 1.05)">5000</text>
<text class="tk" transform="translate(299.4 445.63) scale(1 1.05)">7500</text>
<text class="xl" transform="translate(309.36 485.8) rotate(-45) translate(0 5.67) scale(1 1.05)">2006–07</text>
<text class="xl" transform="translate(318.79 485.8) rotate(-45) translate(0 5.67) scale(1 1.05)">2007–08</text>
<text class="xl" transform="translate(328.21 485.8) rotate(-45) translate(0 5.67) scale(1 1.05)">2008–09</text>
<text class="xl" transform="translate(337.64 485.8) rotate(-45) translate(0 5.67) scale(1 1.05)">2009–10</text>
<text class="xl" transform="translate(347.07 485.8) rotate(-45) translate(0 5.67) scale(1 1.05)">2010–11</text>
<text class="xl" transform="translate(356.5 485.8) rotate(-45) translate(0 5.67) scale(1 1.05)">2011–12</text>
<text class="xl" transform="translate(365.93 485.8) rotate(-45) translate(0 5.67) scale(1 1.05)">2012–13</text>
<text class="xl" transform="translate(375.36 485.8) rotate(-45) translate(0 5.67) scale(1 1.05)">2013–14</text>
<text class="xl" transform="translate(384.79 485.8) rotate(-45) translate(0 5.67) scale(1 1.05)">2014–15</text>
<text class="xl" transform="translate(394.21 485.8) rotate(-45) translate(0 5.67) scale(1 1.05)">2015–16</text>
<text class="xl" transform="translate(403.64 485.8) rotate(-45) translate(0 5.67) scale(1 1.05)">2016–17</text>
<text class="st" transform="translate(492.3 427.05) scale(1 1.05)">United States</text>
<text class="tk" transform="translate(435.2 481.93) scale(1 1.05)">0</text>
<text class="tk" transform="translate(435.2 471.13) scale(1 1.05)">20000</text>
<text class="tk" transform="translate(435.2 460.33) scale(1 1.05)">40000</text>
<text class="tk" transform="translate(435.2 449.53) scale(1 1.05)">60000</text>
<text class="tk" transform="translate(435.2 438.73) scale(1 1.05)">80000</text>
<text class="xl" transform="translate(445.16 485.8) rotate(-45) translate(0 5.67) scale(1 1.05)">2006–07</text>
<text class="xl" transform="translate(454.59 485.8) rotate(-45) translate(0 5.67) scale(1 1.05)">2007–08</text>
<text class="xl" transform="translate(464.01 485.8) rotate(-45) translate(0 5.67) scale(1 1.05)">2008–09</text>
<text class="xl" transform="translate(473.44 485.8) rotate(-45) translate(0 5.67) scale(1 1.05)">2009–10</text>
<text class="xl" transform="translate(482.87 485.8) rotate(-45) translate(0 5.67) scale(1 1.05)">2010–11</text>
<text class="xl" transform="translate(492.3 485.8) rotate(-45) translate(0 5.67) scale(1 1.05)">2011–12</text>
<text class="xl" transform="translate(501.73 485.8) rotate(-45) translate(0 5.67) scale(1 1.05)">2012–13</text>
<text class="xl" transform="translate(511.16 485.8) rotate(-45) translate(0 5.67) scale(1 1.05)">2013–14</text>
<text class="xl" transform="translate(520.59 485.8) rotate(-45) translate(0 5.67) scale(1 1.05)">2014–15</text>
<text class="xl" transform="translate(530.01 485.8) rotate(-45) translate(0 5.67) scale(1 1.05)">2015–16</text>
<text class="xl" transform="translate(539.44 485.8) rotate(-45) translate(0 5.67) scale(1 1.05)">2016–17</text>
<text class="ti" transform="translate(11 249.9) rotate(-90) scale(1 1.03)" text-anchor="middle">Counts</text>
<text class="ti" transform="translate(292.8 521.2) scale(1 1.03)" text-anchor="middle">Season</text>
<text class="ti" x="44.1" y="541.9">subtype</text>
<text class="lg" transform="translate(88.4 541.0) scale(1 1.05)">B</text>
<text class="lg" transform="translate(105.4 541.0) scale(1 1.05)">H1N1</text>
<text class="lg" transform="translate(137.0 541.0) scale(1 1.05)">H3N2</text>
</g>
</svg>
</body></html>
